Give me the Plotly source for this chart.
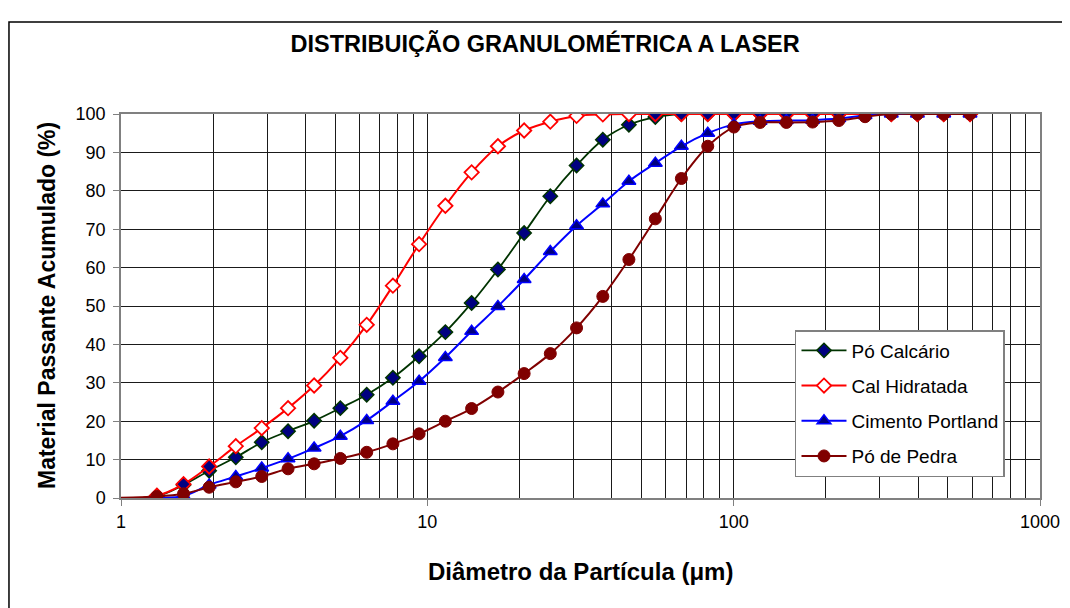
import plotly.graph_objects as go

# particle diameter (um) - first point sits below the axis start, only the line shows
diametro = [0.88, 1.31, 1.6, 1.94, 2.37, 2.88, 3.51, 4.27, 5.2, 6.34, 7.72, 9.4,
            11.45, 13.95, 17.0, 20.7, 25.2, 30.7, 37.4, 45.5, 55.5, 67.5, 82.3,
            100.2, 122, 148.6, 181, 220.5, 268.5, 327, 398, 485, 591]

po_calcario = [0, 0.5, 3.4, 7.1, 10.6, 14.5, 17.4, 20.1, 23.4, 26.9, 31.3, 36.9,
               43.2, 50.8, 59.5, 69.0, 78.6, 86.6, 93.3, 97.2, 99.2, 100, 100,
               100, 100, 100, 100, 100, 100, 100, 100, 100, 100]

cal_hidratada = [0, 0.6, 3.6, 8.2, 13.5, 18.2, 23.4, 29.3, 36.5, 45.1, 55.3, 66.1,
                 76.1, 84.8, 91.6, 95.7, 98.0, 99.5, 99.9, 100, 100, 100, 100,
                 100, 100, 100, 100, 100, 100, 100, 100, 100, 100]

cimento_portland = [0, 0.0, 0.5, 3.4, 5.6, 7.8, 10.2, 13.0, 16.1, 20.2, 25.2, 30.4,
                    36.6, 43.4, 49.9, 56.9, 64.2, 70.9, 76.6, 82.5, 87.2, 91.6, 95.0,
                    97.3, 98.1, 98.3, 98.4, 98.8, 99.6, 100, 100, 100, 100]

po_de_pedra = [0, 0.4, 1.1, 2.8, 4.2, 5.6, 7.6, 8.9, 10.3, 11.9, 14.1, 16.7,
               20.0, 23.3, 27.6, 32.4, 37.6, 44.3, 52.5, 62.1, 72.7, 83.2, 91.6,
               96.6, 97.8, 97.8, 97.9, 98.3, 99.3, 100, 100, 100, 100]

x_ticks = [1, 10, 100, 1000]
x_minor = [m * d for d in (1, 10, 100) for m in range(2, 10)]

FONT = "Liberation Sans, Arial, sans-serif"

# open red diamonds show the navy diamond underneath where the two series overlap
red_fill = ['#000080' if abs(g - r) < 1.5 and r > 1 else 'white'
            for g, r in zip(po_calcario, cal_hidratada)]

fig = go.Figure()

fig.add_trace(go.Scatter(
    x=diametro, y=po_calcario, name='Pó Calcário', mode='lines+markers',
    legendgroup='a',
    line=dict(color='#003300', width=1.8, shape='spline'),
    marker=dict(symbol='diamond', size=11, color='#000080',
                line=dict(color='#003300', width=1.5))
))
fig.add_trace(go.Scatter(
    x=diametro, y=cal_hidratada, name='Cal Hidratada', mode='lines+markers',
    legendgroup='b',
    line=dict(color='#FF0000', width=2, shape='spline'),
    marker=dict(symbol='diamond', size=11, color=red_fill,
                line=dict(color='#FF0000', width=1.8))
))
fig.add_trace(go.Scatter(
    x=diametro, y=cimento_portland, name='Cimento Portland', mode='lines+markers',
    legendgroup='c',
    line=dict(color='#0000FF', width=2, shape='spline'),
    marker=dict(symbol='triangle-up', size=12, color='#000080',
                line=dict(color='#0000FF', width=1.5))
))
fig.add_trace(go.Scatter(
    x=diametro, y=po_de_pedra, name='Pó de Pedra', mode='lines+markers',
    legendgroup='d',
    line=dict(color='#800000', width=2, shape='spline'),
    marker=dict(symbol='circle', size=12, color='#800000',
                line=dict(color='#800000', width=1))
))

# the page body adds an 8px offset, so margins are shifted to compensate
fig.update_layout(
    width=1070, height=608,
    margin=dict(l=113, r=38, t=106, b=118),
    paper_bgcolor='white', plot_bgcolor='white',
    font=dict(family=FONT, size=18, color='black'),
    title=dict(text='<b>DISTRIBUIÇÃO GRANULOMÉTRICA A LASER</b>',
               x=0.502, xanchor='center', y=0.941, yanchor='middle',
               font=dict(size=23.5)),
    legend=dict(x=0.7334, y=0.4375, xanchor='left', yanchor='top',
                bgcolor='white', bordercolor='#808080', borderwidth=1.5,
                font=dict(size=19), itemwidth=45, tracegroupgap=7.5),
    showlegend=True,
)

fig.update_xaxes(
    type='log', range=[0, 3],
    tickvals=x_ticks, ticktext=[str(t) for t in x_ticks],
    ticks='outside', ticklen=6, tickcolor='#808080', ticklabelstandoff=1,
    showgrid=True, gridcolor='#1a1a1a', gridwidth=1,
    minor=dict(tickvals=x_minor, showgrid=True, gridcolor='#1a1a1a', gridwidth=1, ticks=''),
    showline=True, linecolor='#808080', linewidth=1.5, mirror=True,
    zeroline=False,
)
fig.update_yaxes(
    range=[0, 100], dtick=10,
    ticks='outside', ticklen=6, tickcolor='#808080', ticklabelstandoff=4,
    showgrid=True, gridcolor='#1a1a1a', gridwidth=1,
    showline=True, linecolor='#808080', linewidth=1.5, mirror=True,
    zeroline=False,
)

# axis titles
fig.add_annotation(text='<b>Material Passante Acumulado (%)</b>', textangle=-90,
                   xref='paper', yref='paper', x=-0.0805, y=0.5,
                   xanchor='center', yanchor='middle',
                   showarrow=False, font=dict(size=23))
fig.add_annotation(text='<b>Diâmetro da Partícula (μm)</b>',
                   xref='paper', yref='paper', x=0.4995, y=-0.1927,
                   xanchor='center', yanchor='middle',
                   showarrow=False, font=dict(size=24))

# outer chart border
fig.add_shape(type='rect', xref='paper', yref='paper',
              x0=-0.1219, x1=1.2, y0=-0.5, y1=1.2396,
              line=dict(color='black', width=1.5), layer='below')

fig.write_html("out.html")
